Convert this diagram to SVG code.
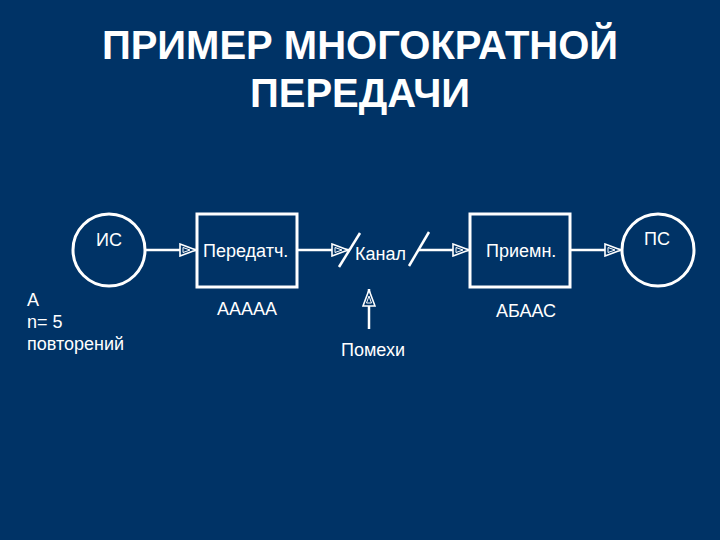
<svg xmlns="http://www.w3.org/2000/svg" width="720" height="540" viewBox="0 0 720 540">
<defs>
<style>
.t{font-family:"Liberation Sans",Arial,sans-serif;fill:#fff}
.title{font-size:40px;font-weight:bold;text-anchor:middle}
.lbl{font-size:18px}
.shape{fill:none;stroke:#fff;stroke-width:3}
.ln{fill:none;stroke:#fff;stroke-width:2.5}
</style>
<marker id="ah" viewBox="0 0 18 14" refX="18" refY="7" markerWidth="18" markerHeight="14" markerUnits="userSpaceOnUse" orient="auto">
<polygon points="1,1 17,7 1,13" fill="#003366" stroke="#fff" stroke-width="1.6"/>
<polygon points="4,4.5 11,7 4,9.5" fill="none" stroke="#fff" stroke-width="1"/>
</marker>
</defs>
<rect width="720" height="540" fill="#003366"/>
<text class="t title" x="360" y="59">ПРИМЕР МНОГОКРАТНОЙ</text>
<text class="t title" x="360" y="107">ПЕРЕДАЧИ</text>
<g id="is">
<circle class="shape" cx="109" cy="250" r="36"/>
<text class="t lbl" x="96" y="246">ИС</text>
</g>
<g id="peredatch">
<rect class="shape" x="197" y="214" width="100" height="73"/>
<text class="t lbl" x="203" y="257">Передатч.</text>
</g>
<g id="kanal">
<line class="ln" x1="339" y1="267" x2="360" y2="233"/>
<line class="ln" x1="409" y1="266" x2="429" y2="232"/>
<text class="t lbl" x="355" y="260">Канал</text>
</g>
<g id="priemn">
<rect class="shape" x="470" y="214" width="100" height="73"/>
<text class="t lbl" x="486" y="257">Приемн.</text>
</g>
<g id="ps">
<circle class="shape" cx="658" cy="250" r="36"/>
<text class="t lbl" x="644" y="245">ПС</text>
</g>
<g id="pomehi">
<text class="t lbl" x="341" y="356">Помехи</text>
</g>
<g id="connectors">
<line class="ln" x1="145" y1="250" x2="197" y2="250" marker-end="url(#ah)"/>
<line class="ln" x1="297" y1="250" x2="349" y2="250" marker-end="url(#ah)"/>
<line class="ln" x1="418" y1="250" x2="470" y2="250" marker-end="url(#ah)"/>
<line class="ln" x1="570" y1="250" x2="622" y2="250" marker-end="url(#ah)"/>
<line class="ln" x1="369" y1="329" x2="369" y2="289" marker-end="url(#ah)"/>
</g>
<g id="notes">
<text class="t lbl" x="217" y="315">ААААА</text>
<text class="t lbl" x="496" y="317">АБААС</text>
<text class="t lbl" x="27" y="306">А</text>
<text class="t lbl" x="27" y="328">n= 5</text>
<text class="t lbl" x="27" y="350">повторений</text>
</g>
</svg>
